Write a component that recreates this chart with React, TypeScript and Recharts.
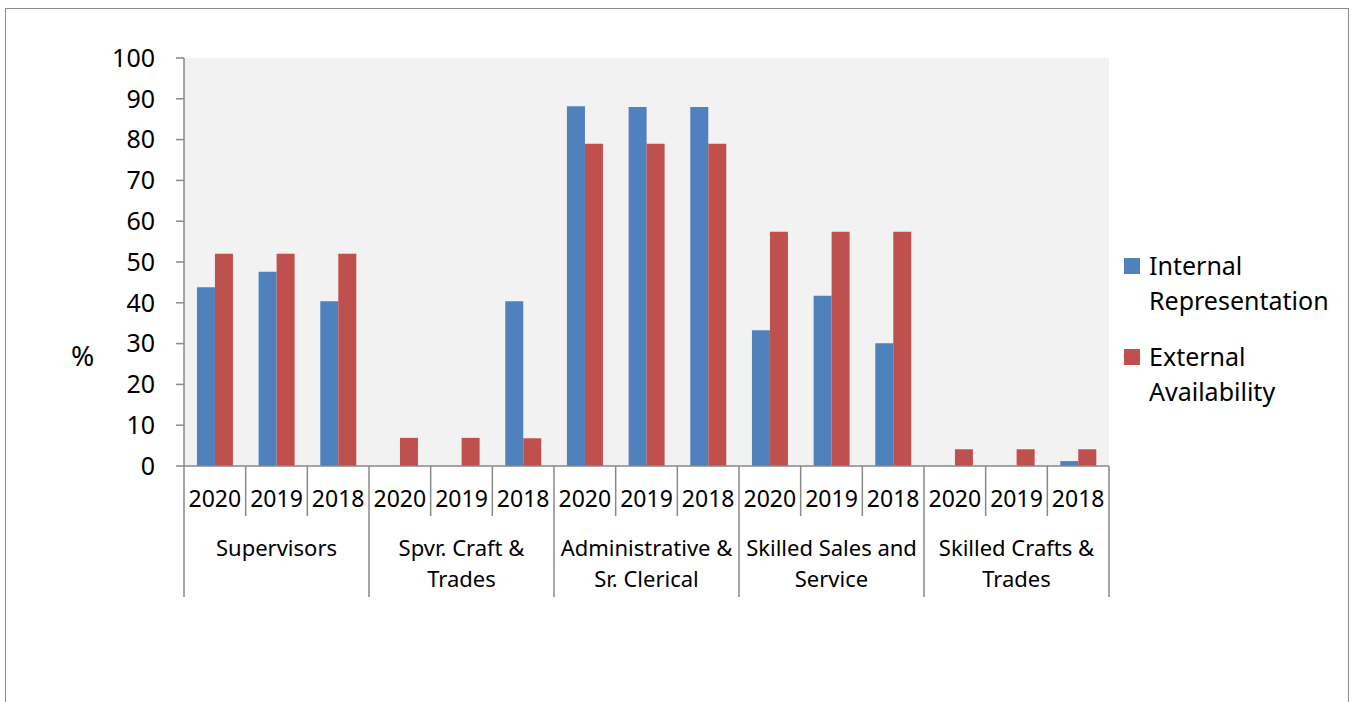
import React from 'react';
import { BarChart, Bar, XAxis, YAxis, CartesianGrid, Legend } from 'recharts';

const years = ['2020', '2019', '2018', '2020', '2019', '2018', '2020', '2019', '2018', '2020', '2019', '2018', '2020', '2019', '2018'];
const groupLines = [
  ['Supervisors'],
  ['Spvr. Craft &', 'Trades'],
  ['Administrative &', 'Sr. Clerical'],
  ['Skilled Sales and', 'Service'],
  ['Skilled Crafts &', 'Trades'],
];
const internalRep = [43.8, 47.6, 40.4, 0, 0, 40.4, 88.2, 88.0, 88.0, 33.3, 41.7, 30.1, 0, 0, 1.2];
const externalAvail = [52, 52, 52, 6.9, 6.9, 6.8, 79, 79, 79, 57.4, 57.4, 57.4, 4.1, 4.1, 4.1];
const yTicks = [0, 10, 20, 30, 40, 50, 60, 70, 80, 90, 100];
const seriesOrder = ['internal', 'external'];

const data = years.map((year, i) => ({
  key: `c${i}`,
  year,
  internal: internalRep[i],
  external: externalAvail[i],
}));

const FONT = '"Noto Sans", sans-serif';
const AXIS = '#898989';
const BLUE = '#4f81bd';
const RED = '#c0504d';

const CHART_W = 1342;
const CHART_H = 693;
const Y_AXIS_W = 116;
const margin = { top: 49, right: 239, bottom: 96, left: 62 };
const PLOT_W = CHART_W - margin.left - Y_AXIS_W - margin.right;
const BAND = PLOT_W / data.length;

function CategoryTick(props: any) {
  const { x, y, index } = props;
  const half = BAND / 2;
  const groupStart = index % 3 === 0;
  const last = index === data.length - 1;
  const g = Math.floor(index / 3);
  return (
    <g>
      <line x1={x - half} x2={x - half} y1={y} y2={y + (groupStart ? 131 : 50)} stroke={AXIS} strokeWidth={1.5} />
      {last && <line x1={x + half} x2={x + half} y1={y} y2={y + 131} stroke={AXIS} strokeWidth={1.5} />}
      <text x={x} y={y + 41} textAnchor="middle" fontSize={23} fill="#000">{years[index]}</text>
      {index % 3 === 1 &&
        groupLines[g].map((ln, j) => (
          <text key={j} x={x} y={y + 90 + j * 31} textAnchor="middle" fontSize={22} fill="#000">
            {ln}
          </text>
        ))}
    </g>
  );
}

function LegendBox(props: any) {
  const items = [...(props.payload || [])].sort(
    (a: any, b: any) => seriesOrder.indexOf(a.dataKey) - seriesOrder.indexOf(b.dataKey)
  );
  return (
    <div style={{ fontFamily: FONT, fontSize: 25, lineHeight: '35px', color: '#000' }}>
      {items.map((entry: any, i: number) => (
        <div key={i} style={{ position: 'relative', paddingLeft: 25, marginBottom: 21 }}>
          <div style={{ position: 'absolute', left: 0, top: 10, width: 16, height: 16, background: entry.color }} />
          {String(entry.value).split(' ').map((w, j) => (
            <div key={j}>{w}</div>
          ))}
        </div>
      ))}
    </div>
  );
}

export default function App() {
  return (
    <div
      style={{
        position: 'absolute',
        left: 5,
        top: 8,
        width: CHART_W + 2,
        height: CHART_H + 1,
        boxSizing: 'border-box',
        border: '1px solid #8c8c8c',
        borderBottom: 'none',
        background: '#fff',
        fontFamily: FONT,
        overflow: 'hidden',
      }}
    >
      <BarChart width={CHART_W} height={CHART_H} data={data} margin={margin} barCategoryGap="21%" barGap={0}>
        <CartesianGrid fill="#f2f2f2" horizontal={false} vertical={false} />
        <XAxis
          dataKey="key"
          interval={0}
          height={140}
          tickSize={0}
          tickMargin={0}
          tickLine={false}
          axisLine={{ stroke: AXIS, strokeWidth: 1.5 }}
          tick={<CategoryTick />}
        />
        <YAxis
          width={Y_AXIS_W}
          domain={[0, 100]}
          ticks={yTicks}
          interval={0}
          tickSize={8}
          tickMargin={21}
          stroke={AXIS}
          strokeWidth={1.5}
          tick={{ fill: '#000', fontSize: 25 }}
          label={{
            content: (p: any) => (
              <text x={p.viewBox.x + 3} y={p.viewBox.y + 297} dominantBaseline="central" fontSize={28} fill="#000">
                %
              </text>
            ),
          }}
        />
        <Legend
          layout="horizontal"
          align="center"
          verticalAlign="middle"
          content={<LegendBox />}
          wrapperStyle={{ left: 1118, top: 239, width: 220 }}
        />
        <Bar dataKey="internal" name="Internal Representation" fill={BLUE} isAnimationActive={false} />
        <Bar dataKey="external" name="External Availability" fill={RED} isAnimationActive={false} />
      </BarChart>
    </div>
  );
}
